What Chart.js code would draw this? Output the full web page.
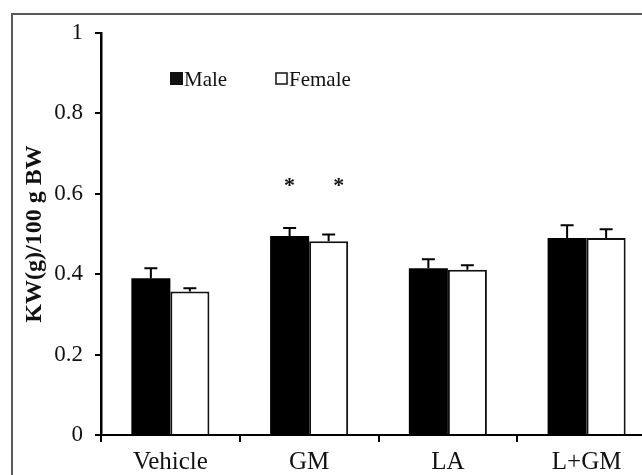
<!DOCTYPE html>
<html>
<head>
<meta charset="utf-8">
<script src="https://cdn.jsdelivr.net/npm/chart.js@4/dist/chart.umd.min.js"></script>
<style>
html,body{margin:0;padding:0;background:#fff;overflow:hidden;width:642px;height:475px;}
#frame{position:absolute;left:11px;top:13px;width:700px;height:500px;border-left:2px solid #5a5a5a;border-top:2px solid #5a5a5a;box-sizing:border-box;}
#wrap{position:absolute;left:0;top:0;width:700px;height:475px;}
</style>
</head>
<body>
<div id="frame"></div>
<div id="wrap"><canvas id="c" width="700" height="475"></canvas></div>
<script>
const categories = ["Vehicle", "GM", "LA", "L+GM"];
const maleValues = [0.390, 0.495, 0.415, 0.490];
const maleErrors = [0.025, 0.020, 0.022, 0.032];
const femaleValues = [0.357, 0.482, 0.411, 0.490];
const femaleErrors = [0.008, 0.017, 0.011, 0.022];
const maleStars = ["", "*", "", ""];
const femaleStars = ["", "*", "", ""];
const yTicks = [0, 0.2, 0.4, 0.6, 0.8, 1];
const seriesNames = ["Male", "Female"];

const serif = "'Liberation Serif', 'Times New Roman', serif";

const errorBarPlugin = {
  id: 'errorBars',
  afterDatasetsDraw(chart) {
    const ctx = chart.ctx;
    const y = chart.scales.y;
    const errs = [maleErrors, femaleErrors];
    const stars = [maleStars, femaleStars];
    const starShift = [0, 10];
    chart.data.datasets.forEach((ds, di) => {
      const meta = chart.getDatasetMeta(di);
      meta.data.forEach((bar, i) => {
        const v = ds.data[i];
        const top = y.getPixelForValue(v + errs[di][i]);
        const base = y.getPixelForValue(v);
        ctx.save();
        ctx.strokeStyle = '#000';
        ctx.lineWidth = 2;
        ctx.beginPath();
        ctx.moveTo(bar.x, base);
        ctx.lineTo(bar.x, top);
        ctx.moveTo(bar.x - 6.5, top);
        ctx.lineTo(bar.x + 6.5, top);
        ctx.stroke();
        if (stars[di][i]) {
          ctx.fillStyle = '#111';
          ctx.font = "bold 22px " + serif;
          ctx.textAlign = 'center';
          ctx.textBaseline = 'middle';
          ctx.fillText(stars[di][i], bar.x + starShift[di], y.getPixelForValue(0.618));
        }
        ctx.restore();
      });
    });
  }
};

const legendPlugin = {
  id: 'customLegend',
  afterDraw(chart) {
    const ctx = chart.ctx;
    ctx.save();
    ctx.font = "21px " + serif;
    ctx.fillStyle = '#111';
    ctx.textBaseline = 'alphabetic';
    ctx.fillRect(170, 72, 13, 13);
    ctx.fillText(seriesNames[0], 184, 86);
    ctx.fillStyle = '#fff';
    ctx.fillRect(276, 73, 11, 11);
    ctx.strokeStyle = '#111';
    ctx.lineWidth = 1.5;
    ctx.strokeRect(276, 73, 11, 11);
    ctx.fillStyle = '#111';
    ctx.fillText(seriesNames[1], 289, 86);
    ctx.restore();
  }
};

new Chart(document.getElementById('c'), {
  type: 'bar',
  data: {
    labels: categories,
    datasets: [
      { label: seriesNames[0], data: maleValues, backgroundColor: '#000', borderColor: '#000', borderWidth: 0,
        categoryPercentage: 0.5625, barPercentage: 1.0 },
      { label: seriesNames[1], data: femaleValues, backgroundColor: '#fff', borderColor: '#111', borderWidth: 2,
        categoryPercentage: 0.5625, barPercentage: 1.0 }
    ]
  },
  options: {
    responsive: false,
    animation: false,
    layout: { padding: { top: 33, right: 44, bottom: 0, left: 0 } },
    plugins: { legend: { display: false }, tooltip: { enabled: false } },
    scales: {
      x: {
        grid: { display: true, drawOnChartArea: false, offset: true, tickLength: 7, color: '#000', lineWidth: 2 },
        border: { display: true, color: '#000', width: 2 },
        ticks: { color: '#111', font: { family: serif, size: 25 }, padding: 5 },
        afterFit(scale) { scale.height = 40; }
      },
      y: {
        min: 0, max: 1,
        afterBuildTicks(scale) { scale.ticks = yTicks.map(v => ({ value: v })); },
        grid: { display: true, drawOnChartArea: false, tickLength: 6, color: '#000', lineWidth: 2 },
        border: { display: true, color: '#000', width: 2.5 },
        ticks: { color: '#111', font: { family: serif, size: 23 }, padding: 12, callback: (v) => String(v) },
        title: { display: true, text: 'KW(g)/100 g BW', color: '#111', font: { family: serif, size: 24, weight: 'bold' }, padding: { top: 20, bottom: 0 } },
        afterFit(scale) { scale.width = 101; }
      }
    }
  },
  plugins: [errorBarPlugin, legendPlugin]
});
</script>
</body>
</html>
